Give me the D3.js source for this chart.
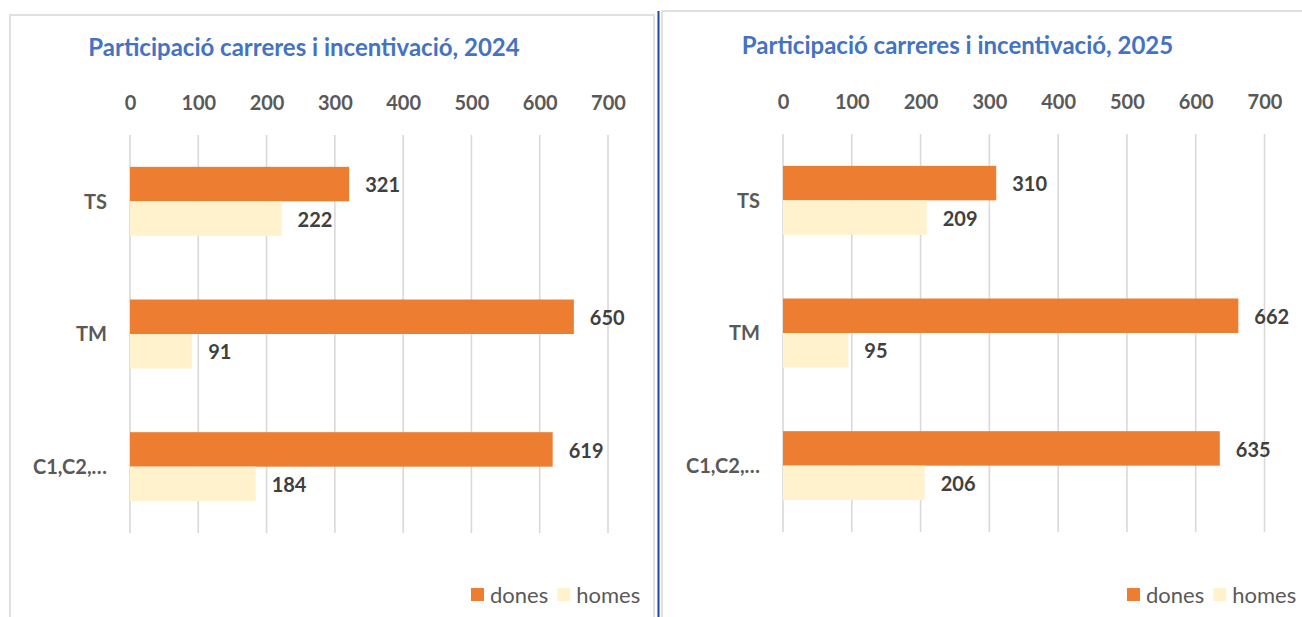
<!DOCTYPE html>
<html>
<head>
<meta charset="utf-8">
<script src="https://cdn.jsdelivr.net/npm/d3@7"></script>
<style>
  body { margin: 0; background: #fff; }
  svg { display: block; font-family: Lato, "Open Sans", sans-serif; }
</style>
</head>
<body>
<svg id="chart" width="1302" height="617"></svg>
<script>
// data
const categories = ['TS', 'TM', 'C1,C2,…'];
const seriesNames = ['dones', 'homes'];
const dones2024 = [321, 650, 619];
const homes2024 = [222, 91, 184];
const dones2025 = [310, 662, 635];
const homes2025 = [209, 95, 206];
const ticks = [0, 100, 200, 300, 400, 500, 600, 700];
const titles = ['Participació carreres i incentivació, 2024', 'Participació carreres i incentivació, 2025'];

const colors = { dones: '#ED7D31', homes: '#FFF2CC' };

const svg = d3.select('#chart');

const drawPanel = (opts) => {
  const { box, x0, x1, yTop, yBottom, title, titleX, titleY, dones, homes, legendX } = opts;

  const g = svg.append('g');

  // panel frame
  g.append('rect')
    .attr('x', box[0]).attr('y', box[1])
    .attr('width', box[2] - box[0]).attr('height', box[3] - box[1])
    .attr('fill', '#fff')
    .attr('stroke', '#d9d9d9')
    .attr('stroke-width', 1.6);

  const x = d3.scaleLinear().domain([0, 700]).range([x0, x1]);

  const y = d3.scaleBand()
    .domain(categories)
    .range([yTop, yBottom])
    .paddingInner(0.48)
    .paddingOuter(0.24);

  const ySub = d3.scaleBand()
    .domain(seriesNames)
    .range([0, y.bandwidth()]);

  // title
  g.append('text')
    .attr('x', titleX)
    .attr('y', titleY)
    .attr('text-anchor', 'middle')
    .attr('fill', '#4472C4')
    .attr('font-weight', 'bold')
    .attr('font-size', 24)
    .text(title);

  // gridlines
  g.selectAll('line.grid')
    .data(ticks)
    .enter()
    .append('line')
    .attr('class', 'grid')
    .attr('x1', d => x(d)).attr('x2', d => x(d))
    .attr('y1', yTop).attr('y2', yBottom)
    .attr('stroke', '#d9d9d9')
    .attr('stroke-width', 1.6);

  // top axis labels
  const axis = g.append('g')
    .attr('transform', `translate(0,${yTop - 25})`)
    .call(d3.axisTop(x).tickValues(ticks).tickSize(0).tickPadding(0));
  axis.select('.domain').remove();
  axis.selectAll('text')
    .attr('font-family', 'Lato, sans-serif')
    .attr('font-size', 20)
    .attr('font-weight', 'bold')
    .attr('fill', '#595959');

  // category labels
  g.selectAll('text.cat')
    .data(categories)
    .enter()
    .append('text')
    .attr('class', 'cat')
    .attr('x', x0 - 23)
    .attr('y', d => y(d) + y.bandwidth() / 2)
    .attr('dy', '0.36em')
    .attr('text-anchor', 'end')
    .attr('font-size', 20)
    .attr('font-weight', 'bold')
    .attr('fill', '#595959')
    .text(d => d);

  const rows = [];
  categories.forEach((c, i) => {
    rows.push({ cat: c, s: 'dones', v: dones[i] });
    rows.push({ cat: c, s: 'homes', v: homes[i] });
  });

  g.selectAll('rect.bar')
    .data(rows)
    .enter()
    .append('rect')
    .attr('class', 'bar')
    .attr('x', x(0))
    .attr('y', d => y(d.cat) + ySub(d.s))
    .attr('width', d => x(d.v) - x(0))
    .attr('height', ySub.bandwidth())
    .attr('fill', d => colors[d.s]);

  g.selectAll('text.val')
    .data(rows)
    .enter()
    .append('text')
    .attr('class', 'val')
    .attr('x', d => x(d.v) + 16)
    .attr('y', d => y(d.cat) + ySub(d.s) + ySub.bandwidth() / 2 + 1)
    .attr('dy', '0.36em')
    .attr('font-size', 20)
    .attr('font-weight', 'bold')
    .attr('fill', '#404040')
    .text(d => d.v);

  // legend
  const leg = g.append('g').attr('transform', `translate(${legendX},595)`);
  let lx = 0;
  seriesNames.forEach(s => {
    leg.append('rect')
      .attr('x', lx).attr('y', -7)
      .attr('width', 13).attr('height', 13)
      .attr('fill', colors[s]);
    const t = leg.append('text')
      .attr('x', lx + 19)
      .attr('dy', '0.36em')
      .attr('font-size', 22)
      .attr('fill', '#595959')
      .text(s);
    lx += 19 + t.node().getComputedTextLength() + 9;
  });
};

drawPanel({
  box: [10, 15, 654, 640],
  x0: 130, x1: 608,
  yTop: 135, yBottom: 533,
  title: titles[0], titleX: 304, titleY: 56,
  dones: dones2024, homes: homes2024,
  legendX: 471
});

drawPanel({
  box: [662, 11, 1320, 640],
  x0: 783, x1: 1264.5,
  yTop: 134, yBottom: 532,
  title: titles[1], titleX: 957.5, titleY: 54,
  dones: dones2025, homes: homes2025,
  legendX: 1127
});

// blue divider
svg.append('line')
  .attr('x1', 658.5).attr('x2', 658.5)
  .attr('y1', 11).attr('y2', 617)
  .attr('stroke', '#2143a8')
  .attr('stroke-width', 2);
</script>
</body>
</html>
